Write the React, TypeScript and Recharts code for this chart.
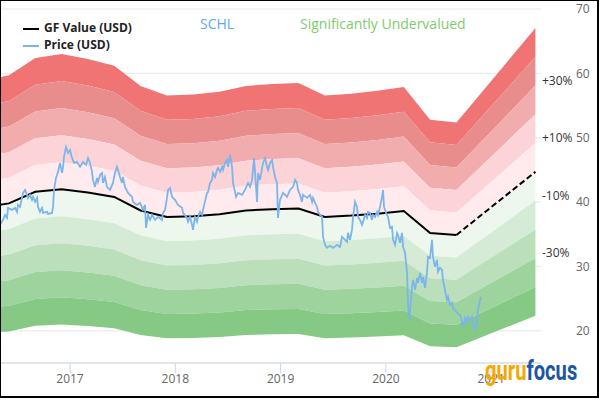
import React from 'react';
import { ComposedChart, Area, Line, XAxis, YAxis, CartesianGrid } from 'recharts';

// GF Value nodes (fractional year, USD)
const gfDates = [2016.335, 2016.42, 2016.67, 2016.92, 2017.17, 2017.42, 2017.67, 2017.92, 2018.17, 2018.42, 2018.67, 2018.92, 2019.17, 2019.42, 2019.67, 2019.92, 2020.17, 2020.42, 2020.67, 2021.42];
const gfValues = [39.6, 39.8, 41.6, 42.0, 41.5, 40.8, 38.7, 37.7, 37.8, 38.1, 38.7, 38.9, 39.0, 37.7, 37.9, 38.2, 38.6, 35.2, 34.9, 44.7];
const forecastStart = 2020.67;

// Price (USD)
const priceDates = [
  2016.335, 2016.364, 2016.383, 2016.402, 2016.411, 2016.449, 2016.478, 2016.497, 2016.506, 2016.525,
  2016.544, 2016.554, 2016.573, 2016.592, 2016.601, 2016.620, 2016.639, 2016.649, 2016.668, 2016.687,
  2016.696, 2016.715, 2016.734, 2016.744, 2016.782, 2016.791, 2016.829, 2016.839, 2016.848, 2016.867,
  2016.886, 2016.905, 2016.924, 2016.934, 2016.943, 2016.962, 2016.981, 2017.000, 2017.019, 2017.038,
  2017.066, 2017.095, 2017.123, 2017.152, 2017.171, 2017.190, 2017.209, 2017.218, 2017.237, 2017.256,
  2017.266, 2017.285, 2017.304, 2017.313, 2017.332, 2017.351, 2017.380, 2017.408, 2017.427, 2017.446,
  2017.456, 2017.475, 2017.494, 2017.503, 2017.522, 2017.551, 2017.589, 2017.598, 2017.636, 2017.665,
  2017.693, 2017.712, 2017.722, 2017.741, 2017.760, 2017.779, 2017.807, 2017.836, 2017.874, 2017.883,
  2017.902, 2017.921, 2017.931, 2017.950, 2017.969, 2017.997, 2018.026, 2018.064, 2018.073, 2018.111,
  2018.121, 2018.140, 2018.159, 2018.168, 2018.187, 2018.206, 2018.216, 2018.235, 2018.254, 2018.263,
  2018.301, 2018.311, 2018.330, 2018.349, 2018.358, 2018.377, 2018.396, 2018.406, 2018.425, 2018.444,
  2018.453, 2018.472, 2018.491, 2018.501, 2018.520, 2018.539, 2018.548, 2018.577, 2018.596, 2018.634,
  2018.662, 2018.691, 2018.710, 2018.729, 2018.748, 2018.776, 2018.786, 2018.805, 2018.833, 2018.852,
  2018.871, 2018.881, 2018.900, 2018.919, 2018.928, 2018.947, 2018.966, 2018.975, 2018.994, 2019.023,
  2019.061, 2019.089, 2019.118, 2019.137, 2019.156, 2019.165, 2019.184, 2019.203, 2019.213, 2019.251,
  2019.280, 2019.299, 2019.308, 2019.327, 2019.346, 2019.355, 2019.375, 2019.394, 2019.403, 2019.422,
  2019.441, 2019.470, 2019.498, 2019.536, 2019.564, 2019.583, 2019.593, 2019.631, 2019.640, 2019.659,
  2019.678, 2019.688, 2019.707, 2019.726, 2019.735, 2019.754, 2019.773, 2019.783, 2019.802, 2019.821,
  2019.830, 2019.849, 2019.868, 2019.878, 2019.897, 2019.916, 2019.925, 2019.944, 2019.963, 2019.973,
  2019.982, 2020.001, 2020.020, 2020.039, 2020.058, 2020.068, 2020.087, 2020.106, 2020.115, 2020.134,
  2020.153, 2020.163, 2020.182, 2020.201, 2020.210, 2020.220, 2020.239, 2020.248, 2020.258, 2020.277,
  2020.296, 2020.305, 2020.324, 2020.343, 2020.353, 2020.371, 2020.390, 2020.400, 2020.419, 2020.438,
  2020.447, 2020.466, 2020.485, 2020.495, 2020.514, 2020.533, 2020.542, 2020.561, 2020.580, 2020.590,
  2020.609, 2020.628, 2020.637, 2020.675, 2020.704, 2020.723, 2020.732, 2020.751, 2020.770, 2020.780,
  2020.799, 2020.818, 2020.827, 2020.846, 2020.865, 2020.875, 2020.884, 2020.894, 2020.903,
];
const priceValues = [
  36.46, 37.23, 38.01, 37.54, 39.10, 38.79, 39.10, 38.48, 39.56, 39.25,
  40.65, 41.43, 41.89, 41.12, 40.65, 41.12, 40.34, 40.81, 40.03, 40.65,
  39.25, 38.48, 39.10, 38.32, 38.48, 38.17, 38.32, 39.25, 41.89, 43.76,
  44.69, 46.09, 44.53, 45.47, 47.02, 48.57, 47.64, 48.10, 46.86, 46.09,
  46.24, 45.47, 46.24, 45.78, 46.86, 46.09, 44.69, 43.45, 42.36, 43.76,
  43.14, 44.22, 44.53, 42.98, 43.91, 42.36, 41.89, 42.98, 44.53, 45.47,
  45.00, 43.91, 42.98, 43.91, 42.36, 41.43, 40.81, 40.03, 39.56, 39.87,
  38.79, 39.56, 35.99, 38.01, 37.23, 38.01, 37.23, 37.70, 37.23, 38.32,
  38.79, 40.65, 41.89, 42.20, 40.81, 40.34, 39.56, 39.10, 38.32, 37.54,
  36.92, 37.70, 36.46, 35.68, 37.70, 36.92, 37.70, 38.48, 38.01, 38.79,
  41.43, 41.58, 42.98, 43.45, 44.53, 43.91, 45.00, 45.31, 44.69, 45.47,
  45.00, 46.09, 46.55, 45.47, 47.33, 45.47, 42.98, 40.81, 41.43, 41.12,
  41.89, 42.98, 42.36, 43.45, 46.86, 40.03, 44.53, 43.45, 46.09, 46.86,
  45.47, 45.00, 46.09, 46.55, 45.47, 43.91, 42.98, 37.54, 40.34, 41.43,
  40.81, 41.89, 42.36, 43.45, 42.98, 41.89, 41.12, 40.03, 41.12, 40.65,
  41.12, 40.03, 40.65, 39.87, 39.25, 38.48, 38.01, 37.70, 34.60, 33.35,
  32.89, 33.20, 32.89, 33.35, 33.04, 34.60, 34.44, 33.82, 35.22, 34.13,
  35.68, 37.70, 40.03, 39.25, 37.70, 37.23, 36.46, 36.92, 38.01, 37.54,
  38.48, 38.32, 37.23, 38.01, 37.70, 38.48, 38.01, 39.25, 40.81, 41.89,
  39.25, 38.32, 37.70, 35.99, 36.15, 34.13, 33.35, 35.22, 34.91, 33.66,
  35.22, 33.04, 32.11, 29.00, 24.35, 21.71, 24.81, 26.83, 27.92, 26.36,
  28.23, 27.45, 29.00, 27.45, 28.38, 26.68, 29.00, 31.49, 31.33, 34.13,
  31.49, 29.94, 31.02, 29.16, 29.78, 29.47, 27.92, 26.36, 24.81, 25.28,
  24.04, 24.35, 23.57, 22.79, 22.48, 21.40, 20.62, 22.02, 21.40, 22.17,
  21.71, 22.17, 20.93, 20.16, 21.24, 23.57, 23.73, 24.81, 25.28,
];

// valuation bands as multiples of GF Value, top to bottom
const bandLows = [1.4, 1.3, 1.2, 1.1, 1.0, 0.9, 0.8, 0.7, 0.6, 0.5];
const bandColors = ['#f07474', '#e88c8c', '#f1adad', '#fcd4d8', '#ffebee', '#eef7ee', '#d5ebd5', '#badfba', '#9dd39d', '#85c985'];
const bandStep = 0.1;
const pctLevels = [0.7, 0.9, 1.1, 1.3];

const yTicks = [20, 30, 40, 50, 60, 70];
const yearTicks = [2017, 2018, 2019, 2020, 2021];

const gfRows = gfDates.map((t, i) => ({ t, gf: gfValues[i] }));
const gfSolid = gfRows.filter((d) => d.t <= forecastStart);
const gfDashed = gfRows.filter((d) => d.t >= forecastStart);
const priceRows = priceDates.map((t, i) => ({ t, price: priceValues[i] }));
const gfEnd = gfValues[gfValues.length - 1];

const PctTick = ({ x, y, payload }: any) => {
  const pct = Math.round((payload.value / gfEnd) * 100) - 100;
  return (
    <text x={x} y={y - 5} dy="0.355em" textAnchor="start" fill="#333" fontSize={12} fontFamily="Open Sans">
      {`${pct > 0 ? '+' : '-'}${Math.abs(pct)}%`}
    </text>
  );
};

export default function App() {
  return (
    <div style={{ position: 'absolute', left: 0, top: 0, width: 600, height: 420, background: '#fff', fontFamily: '"Open Sans", sans-serif' }}>
      <div style={{ position: 'absolute', left: 0, top: 0 }}>
        <ComposedChart width={600} height={398} margin={{ top: 9, right: 0, bottom: 0, left: 0 }} style={{ overflow: 'visible' }}>
          <CartesianGrid yAxisId="val" vertical={false} stroke="#e6e6e6" />
          <XAxis
            dataKey="t"
            type="number"
            domain={[2016.335, 2021.473]}
            allowDataOverflow
            ticks={yearTicks}
            tickFormatter={(v) => String(v)}
            height={35}
            tickSize={10}
            tickMargin={1}
            axisLine={{ stroke: '#ccd6eb' }}
            tickLine={{ stroke: '#ccd6eb' }}
            tick={{ fill: '#666', fontSize: 12, fontFamily: 'Open Sans' }}
          />
          <YAxis
            yAxisId="pct"
            orientation="right"
            type="number"
            domain={[15, 70]}
            allowDataOverflow
            ticks={pctLevels.map((f) => gfEnd * f)}
            width={33}
            tickSize={0}
            tickMargin={1}
            axisLine={false}
            tickLine={false}
            tick={<PctTick />}
          />
          <YAxis
            yAxisId="val"
            orientation="right"
            type="number"
            domain={[15, 70]}
            allowDataOverflow
            ticks={yTicks}
            width={26}
            tickSize={0}
            tickMargin={2}
            axisLine={false}
            tickLine={false}
            tick={{ fill: '#666', fontSize: 12, fontFamily: 'Open Sans', textAnchor: 'start' }}
          />
          {bandLows.map((lo, i) => (
            <Area
              key={lo}
              yAxisId="val"
              data={gfRows}
              dataKey={(d: any) => [d.gf * lo, d.gf * (lo + bandStep)]}
              type="linear"
              stroke="none"
              fill={bandColors[i]}
              fillOpacity={1}
              dot={false}
              activeDot={false}
              isAnimationActive={false}
            />
          ))}
          <Line yAxisId="val" data={gfSolid} dataKey="gf" type="linear" stroke="#000" strokeWidth={2} dot={false} activeDot={false} isAnimationActive={false} />
          <Line yAxisId="val" data={gfDashed} dataKey="gf" type="linear" stroke="#000" strokeWidth={2} strokeDasharray="6 3" dot={false} activeDot={false} isAnimationActive={false} />
          <Line yAxisId="val" data={priceRows} dataKey="price" type="linear" stroke="#7cb5ec" strokeWidth={1.8} dot={false} activeDot={false} isAnimationActive={false} />
        </ComposedChart>
      </div>

      {/* legend */}
      <div style={{ position: 'absolute', left: 23, top: 28, width: 16, height: 2, background: '#000' }} />
      <div style={{ position: 'absolute', left: 44, top: 22, fontSize: 12, lineHeight: '12px', fontWeight: 700, color: '#222', whiteSpace: 'nowrap' }}>GF Value (USD)</div>
      <div style={{ position: 'absolute', left: 23, top: 45, width: 16, height: 2, background: '#7cb5ec' }} />
      <div style={{ position: 'absolute', left: 44, top: 39, fontSize: 12, lineHeight: '12px', fontWeight: 700, color: '#222', whiteSpace: 'nowrap' }}>Price (USD)</div>

      {/* titles */}
      <div style={{ position: 'absolute', left: 200, top: 17, fontSize: 14, lineHeight: '14px', color: '#5ea8ea', whiteSpace: 'nowrap' }}>SCHL</div>
      <div style={{ position: 'absolute', left: 300, top: 17, fontSize: 14, lineHeight: '14px', color: '#80cc6c', whiteSpace: 'nowrap' }}>Significantly Undervalued</div>

      {/* logo */}
      <div style={{ position: 'absolute', left: 485, top: 357, fontFamily: 'Roboto', fontWeight: 700, fontSize: 28, lineHeight: '28px', whiteSpace: 'nowrap', transform: 'scaleX(0.72)', transformOrigin: 'left top' }}>
        <span style={{ color: '#f5a800' }}>guru</span>
        <span style={{ color: '#1d56a3' }}>focus</span>
      </div>

      {/* frame */}
      <div style={{ position: 'absolute', left: 0, top: 0, width: 599, height: 398, boxSizing: 'border-box', borderStyle: 'solid', borderColor: '#000', borderWidth: '1px 2px 2px 1px', pointerEvents: 'none' }} />
    </div>
  );
}
